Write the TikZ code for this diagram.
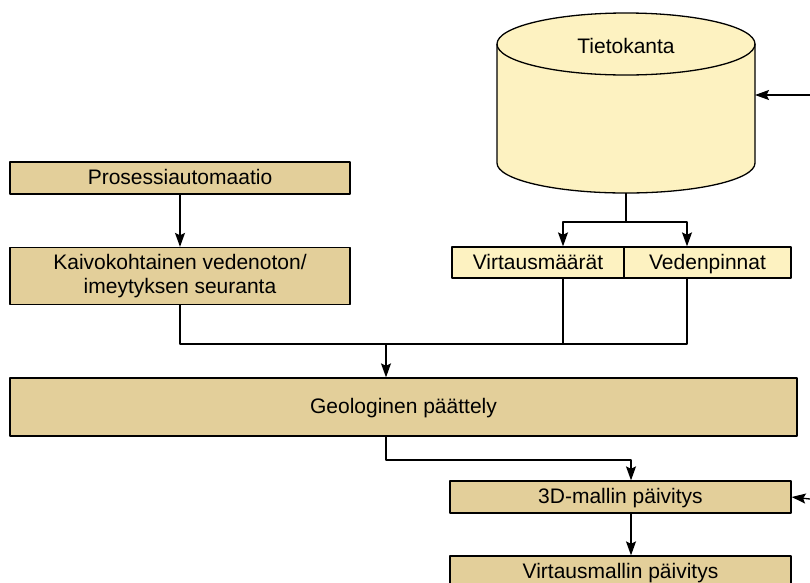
\documentclass[tikz,border=0pt]{standalone}
\usepackage{fontspec}
\setmainfont{Liberation Sans}
\usetikzlibrary{arrows.meta}
\definecolor{ruskea}{RGB}{227,207,154}
\definecolor{keltainen}{RGB}{253,242,193}
\begin{document}
\begin{tikzpicture}[x=1pt,y=-1pt,line join=round,line width=1.3pt,
	>={Stealth[length=14pt,width=10pt,inset=2.5pt]},
	font=\fontsize{21}{24}\selectfont,
	laatikko/.style={draw,fill=ruskea,inner sep=0pt,align=center,minimum height=32pt},
	rivi/.style={text height=16pt,text depth=3pt},
	kentta/.style={draw,fill=keltainen,inner sep=0pt,minimum height=31pt,rivi}]
	\useasboundingbox (0,0) rectangle (810,582);
	\def\rx{129} \def\ry{31} \def\xa{563} \def\xb{687} \def\xc{386}
	% tietokanta (lieriö)
	\path
	(626,44) coordinate (K)
	(626,193) coordinate (Kala)
	(755,95) coordinate (Koik)
	(810,95) coordinate (Ksis)
	(810,499) coordinate (Dsis)
	;
	\fill[keltainen] (497,44) -- (497,163) arc[start angle=180,end angle=0,x radius=\rx,y radius=30]
		-- (755,44) arc[start angle=0,end angle=-180,x radius=\rx,y radius=\ry] -- cycle;
	\draw (497,44) -- (497,163) arc[start angle=180,end angle=0,x radius=\rx,y radius=30] -- (755,44);
	\draw (K) ellipse[x radius=\rx,y radius=\ry];
	\node[rivi] (kanta) at (626,47) {Tietokanta};
	% laatikot
	\node[laatikko,rivi,minimum width=340pt] (proses) at (180,178) {Prosessiautomaatio};
	\node[laatikko,minimum width=340pt,minimum height=57pt] (kaivo) at (180,276)
		{Kaivokohtainen vedenoton/\\imeytyksen seuranta};
	\node[kentta,minimum width=172pt] (virtaus) at (538,262.5) {Virtausmäärät};
	\node[kentta,minimum width=167pt] (pinnat) at (707.5,262.5) {Vedenpinnat};
	\node[laatikko,rivi,minimum width=787pt,minimum height=58pt] (geo) at (403.5,407) {Geologinen päättely};
	\node[laatikko,rivi,minimum width=341pt] (malli3d) at (620.5,497) {3D-mallin päivitys};
	\node[laatikko,rivi,minimum width=341pt] (virtmalli) at (620.5,572) {Virtausmallin päivitys};
	% yhteydet
	\path (\xc,344) coordinate (liitos) (626,222) coordinate (haara);
	\draw[->] (Ksis) -- (Koik);
	\draw (Kala) -- (haara);
	\draw[->] (haara) -| (virtaus.north -| \xa,0);
	\draw[->] (haara) -| (pinnat.north -| \xb,0);
	\draw[->] (proses) -- (kaivo);
	\draw (kaivo.south) |- (liitos);
	\draw (virtaus.south -| \xa,0) |- (liitos);
	\draw (pinnat.south -| \xb,0) |- (liitos);
	\draw[->] (liitos) -- (geo.north -| liitos);
	\draw[->] (geo.south -| liitos) |- (631,460) -- (malli3d.north -| 631,0);
	\draw[->] (Dsis) -- (malli3d.east);
	\draw[->] (malli3d.south -| 631,0) -- (virtmalli.north -| 631,0);
\end{tikzpicture}
\end{document}
